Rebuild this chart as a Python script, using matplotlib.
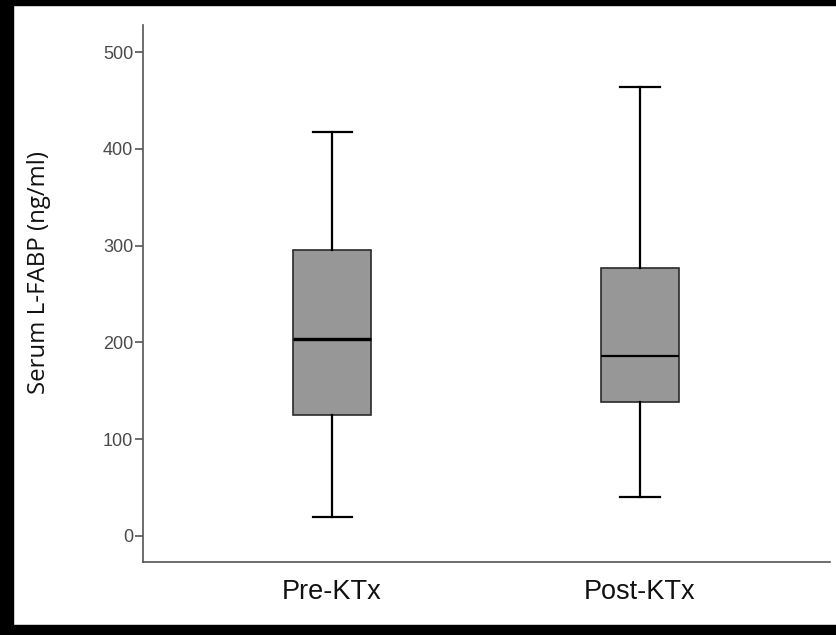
import matplotlib.pyplot as plt
from matplotlib.patches import Rectangle

groups = ['Pre-KTx', 'Post-KTx']
whislo = [19.6, 40]
q1 = [125, 138]
med = [203.5, 186]
q3 = [296, 277]
whishi = [417, 464]
yticks = [0, 100, 200, 300, 400, 500]

stats = []
for i in range(len(groups)):
    stats.append({'label': groups[i], 'whislo': whislo[i], 'q1': q1[i],
                  'med': med[i], 'q3': q3[i], 'whishi': whishi[i], 'fliers': []})

fig = plt.figure(figsize=(8.37, 6.35), dpi=100)
ax = fig.add_axes([143/837, 1 - 562/635, (830-143)/837, (562-25)/635])

bp = ax.bxp(stats, positions=[1, 2], widths=0.253, patch_artist=True,
            showfliers=False,
            boxprops=dict(facecolor='#979797', edgecolor='#2a2a2a', linewidth=1.2),
            whiskerprops=dict(color='black', linewidth=1.6),
            capprops=dict(color='black', linewidth=1.6),
            medianprops=dict(color='black', linewidth=2.4),
            capwidths=0.127)
bp['medians'][1].set_linewidth(1.6)

ax.set_xlim(0.386, 2.617)
ax.set_ylim(-26.9, 528)
ax.set_yticks(yticks)
ax.set_yticklabels([str(t) for t in yticks])

for s in ['top', 'right']:
    ax.spines[s].set_visible(False)
for s in ['left', 'bottom']:
    ax.spines[s].set_color('#555555')
    ax.spines[s].set_linewidth(1.2)

ax.tick_params(axis='y', length=6, width=1.2, color='#555555', labelcolor='#4a4a4a',
               labelsize=13, pad=1)
ax.tick_params(axis='x', length=0, labelsize=19.5, pad=12, labelcolor='#111111')
for lab in ax.get_yticklabels():
    lab.set_family('Liberation Sans')
for lab in ax.get_xticklabels():
    lab.set_family('Liberation Sans')

ax.set_ylabel('Serum L-FABP (ng/ml)', fontsize=17.3, family='Open Sans', color='#111111')
ax.yaxis.set_label_coords(-0.134, 0.539)

# black frame around the picture
fig.add_artist(Rectangle((0, 0), 13/837, 1, transform=fig.transFigure, color='black'))
fig.add_artist(Rectangle((0, 1 - 5/635), 1, 5/635, transform=fig.transFigure, color='black'))
fig.add_artist(Rectangle((0, 0), 1, 10/635, transform=fig.transFigure, color='black'))

fig.savefig('out.png', dpi=100)
